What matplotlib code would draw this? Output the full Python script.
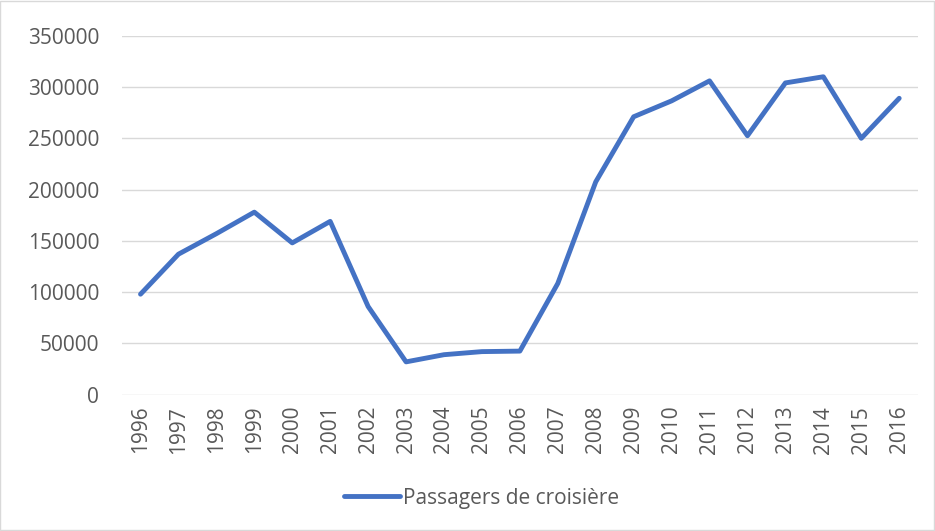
#!/usr/bin/env python3
"""Passagers de croisière, 1996-2016 (line chart, Excel look)."""

import matplotlib
matplotlib.use('Agg')
import matplotlib.pyplot as plt
from matplotlib.patches import Rectangle

YEARS = [
    '1996', '1997', '1998', '1999', '2000', '2001', '2002',
    '2003', '2004', '2005', '2006', '2007', '2008', '2009',
    '2010', '2011', '2012', '2013', '2014', '2015', '2016',
]
PASSENGERS = [
    98000, 137000, 157000, 178000, 148000, 169000, 86000,
    32000, 39000, 42000, 42500, 108500, 207500, 271000,
    286500, 306000, 252500, 304000, 310000, 250000, 289000,
]
Y_TICKS = [0, 50000, 100000, 150000, 200000, 250000, 300000, 350000]
SERIES_LABEL = 'Passagers de croisière'

LINE_COLOR = '#4472C4'
TEXT_COLOR = '#595959'
GRID_COLOR = '#D9D9D9'

plt.rcParams['font.family'] = ['Open Sans', 'DejaVu Sans']


def main():
    fig = plt.figure(figsize=(9.35, 5.31), dpi=100)
    ax = fig.add_axes([0.130, 0.2567, 0.852, 0.676])

    x = list(range(len(YEARS)))
    ax.plot(x, PASSENGERS, color=LINE_COLOR, linewidth=3.5,
            solid_capstyle='round', solid_joinstyle='round',
            label=SERIES_LABEL, zorder=3)

    ax.set_xlim(-0.5, len(YEARS) - 0.5)
    ax.set_ylim(0, 350000)
    ax.set_yticks(Y_TICKS)
    ax.set_yticklabels([str(v) for v in Y_TICKS])
    ax.set_xticks(x)
    ax.set_xticklabels(YEARS, rotation=90)
    ax.tick_params(axis='both', length=0, labelsize=15,
                   labelcolor=TEXT_COLOR)
    ax.tick_params(axis='y', pad=16)
    ax.tick_params(axis='x', pad=8)

    ax.grid(axis='y', color=GRID_COLOR, linewidth=1.0)
    ax.set_axisbelow(True)
    for s in ax.spines.values():
        s.set_visible(False)

    fig.legend(loc='center', bbox_to_anchor=(0.515, 0.062),
               frameon=False, fontsize=15, labelcolor=TEXT_COLOR,
               handlelength=2.7, handletextpad=0.15)

    fig.patches.append(Rectangle(
        (0.0005, 0.001), 0.998, 0.997, transform=fig.transFigure,
        fill=False, edgecolor='#D9D9D9', linewidth=1.0))

    fig.savefig('out.png', dpi=100)


if __name__ == '__main__':
    main()
